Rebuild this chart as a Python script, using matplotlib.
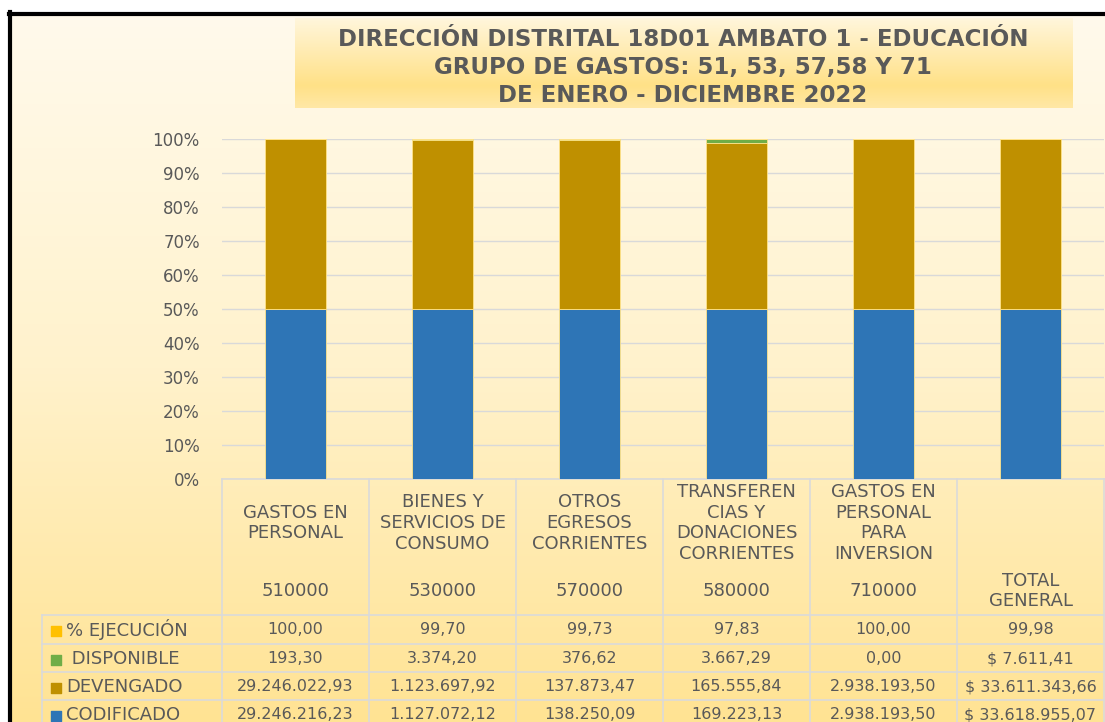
import matplotlib.pyplot as plt
import numpy as np
from matplotlib.colors import LinearSegmentedColormap
from matplotlib.lines import Line2D

# data
categorias = ["GASTOS EN\nPERSONAL", "BIENES Y\nSERVICIOS DE\nCONSUMO", "OTROS\nEGRESOS\nCORRIENTES",
              "TRANSFEREN\nCIAS Y\nDONACIONES\nCORRIENTES", "GASTOS EN\nPERSONAL\nPARA\nINVERSION", ""]
codigos = ["510000", "530000", "570000", "580000", "710000", "TOTAL\nGENERAL"]
codificado = [29246216.23, 1127072.12, 138250.09, 169223.13, 2938193.50, 33618955.07]
devengado = [29246022.93, 1123697.92, 137873.47, 165555.84, 2938193.50, 33611343.66]
disponible = [193.30, 3374.20, 376.62, 3667.29, 0.00, 7611.41]
ejecucion = [100.00, 99.70, 99.73, 97.83, 100.00, 99.98]

series = [("CODIFICADO", codificado, "#2E75B6"),
          ("DEVENGADO", devengado, "#BF9000"),
          (" DISPONIBLE", disponible, "#70AD47"),
          ("% EJECUCIÓN", ejecucion, "#FFC000")]

gris = "#595959"
plt.rcParams['font.family'] = ['DejaVu Sans']

W, H = 1105, 722
fig = plt.figure(figsize=(W / 100, H / 100), dpi=100, facecolor="white")

# background gradient
bg = fig.add_axes([12 / W, 0, 1 - 12 / W, 1 - 15 / H])
bg.axis("off")
cmap_bg = LinearSegmentedColormap.from_list("bg", ["#FFFAEC", "#FFF2CC", "#FFE393"])
bg.imshow(np.linspace(0, 1, 256).reshape(-1, 1), aspect="auto", cmap=cmap_bg,
          extent=[0, 1, 0, 1], origin="upper")

# title box
tb = fig.add_axes([295 / W, 1 - 108 / H, (1072 - 295) / W, 90 / H])
tb.axis("off")
cmap_t = LinearSegmentedColormap.from_list("t", [(0, "#FFF6DC"), (0.75, "#FFE187"), (1, "#FFE8A6")])
tb.imshow(np.linspace(0, 1, 256).reshape(-1, 1), aspect="auto", cmap=cmap_t,
          extent=[0, 1, 0, 1], origin="upper")

titulo = ["DIRECCIÓN DISTRITAL 18D01 AMBATO 1 - EDUCACIÓN",
          "GRUPO DE GASTOS: 51, 53, 57,58 Y 71",
          "DE ENERO - DICIEMBRE 2022"]
for i, t in enumerate(titulo):
    fig.text(683 / W, 1 - (40 + i * 27.5) / H, t, ha="center", va="center",
             fontsize=16.5, fontweight="bold", color=gris)

# border
fig.add_artist(Line2D([10 / W, 10 / W], [0, 1 - 12 / H], color="black", lw=3))
fig.add_artist(Line2D([9 / W, 1], [1 - 14 / H, 1 - 14 / H], color="black", lw=3))

# chart
y0, y1 = 479, 139
ax = fig.add_axes([222 / W, 1 - y0 / H, (1104 - 222) / W, (y0 - y1) / H])
ax.set_facecolor("none")
x = np.arange(len(codigos))
totales = np.sum([s[1] for s in series], axis=0)
base = np.zeros(len(x))
for nombre, vals, col in series:
    pct = np.array(vals) / totales * 100
    ax.bar(x, pct, 0.41, bottom=base, color=col, edgecolor="#FFE38A", lw=0.6, zorder=3)
    base += pct

ax.set_xlim(-0.5, len(x) - 0.5)
ax.set_ylim(0, 100)
ax.set_yticks(range(0, 101, 10))
ax.set_yticklabels([f"{v}%" for v in range(0, 101, 10)], fontsize=12, color=gris)
ax.tick_params(axis="y", length=0, pad=16)
ax.set_xticks([])
ax.grid(axis="y", color="#D9D9D9", lw=1, zorder=0)
for s in ax.spines.values():
    s.set_visible(False)

# table below
tr = ax.get_xaxis_transform()
def ay(ypix):
    return (y0 - ypix) / (y0 - y1)

lc = "#DADADA"
px = 1 / 147
xl = -0.5 - 180 * px
xr = len(x) - 0.5 + 5 * px
filas_y = [615, 644, 672, 700, 728]
ax.plot([-0.5, xr], [ay(y0), ay(y0)], color=lc, lw=1.2, transform=tr, clip_on=False)
for yy in filas_y:
    ax.plot([xl, xr], [ay(yy), ay(yy)], color=lc, lw=1.2, transform=tr, clip_on=False)
for k in range(len(x) + 1):
    ax.plot([k - 0.5, k - 0.5], [ay(y0), ay(740)], color=lc, lw=1.2, transform=tr, clip_on=False)
ax.plot([xl, xl], [ay(615), ay(740)], color=lc, lw=1.2, transform=tr, clip_on=False)

for i in range(len(x)):
    ax.text(x[i], ay(523), categorias[i], transform=tr, ha="center", va="center",
            fontsize=13, color=gris, linespacing=1.2, clip_on=False)
    ax.text(x[i], ay(591), codigos[i], transform=tr, ha="center", va="center",
            fontsize=13, color=gris, linespacing=1.2, clip_on=False)

def fmt(v):
    s = f"{v:,.2f}"
    return s.replace(",", "X").replace(".", ",").replace("X", ".")

filas = list(reversed(series))
for r, (nombre, vals, col) in enumerate(filas):
    yc = ay(filas_y[r] + 14.5)
    ax.scatter([-0.5 - 166 * px], [ay(filas_y[r] + 15.5)], marker="s", s=50, color=col,
               transform=tr, clip_on=False)
    ax.text(-0.5 - 156 * px, yc, nombre, transform=tr, ha="left", va="center",
            fontsize=13, color=gris, clip_on=False)
    for i, v in enumerate(vals):
        txt = fmt(v)
        if i == len(vals) - 1 and nombre != "% EJECUCIÓN":
            txt = "$ " + txt
        ax.text(x[i], yc, txt, transform=tr, ha="center", va="center",
                fontsize=11.5, color=gris, clip_on=False)

fig.savefig("out.png", dpi=100, facecolor="white")
